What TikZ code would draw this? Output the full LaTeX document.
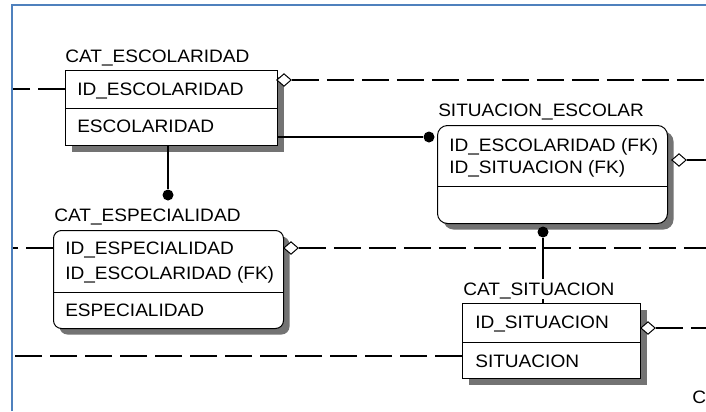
\documentclass[tikz,border=0pt]{standalone}
\usepackage{fontspec}
\setmainfont{Liberation Sans}[FakeStretch=1.06]
\usetikzlibrary{shapes.geometric,shadows}
\definecolor{framecol}{RGB}{79,129,189}
\newcommand\erfont{\fontsize{13.5pt}{16pt}\selectfont}
\begin{document}
\begin{tikzpicture}[x=0.75pt,y=-0.75pt,
  ent/.style={draw=black,fill=white,line width=0.75pt,inner sep=0pt,anchor=north west,
     general shadow={fill=black!55,shadow xshift=4.5pt,shadow yshift=-4.5pt}},
  lbl/.style={anchor=west,inner sep=0pt,text height=9.6pt,text depth=0pt,font=\erfont},
  rel/.style={line width=0.8pt},
  dsh/.style={line width=0.8pt,dash pattern=on 20.25pt off 6pt},
  dot/.style={circle,fill=black,inner sep=0pt,minimum size=8.25pt},
  dia/.style={diamond,draw=black,fill=white,line width=0.75pt,inner sep=0pt,minimum width=11pt,minimum height=9.5pt}]
\useasboundingbox (0,0) rectangle (706,411);
\clip (0,0) rectangle (706,411);
\fill[white] (0,0) rectangle (706,411);
\draw[line width=1.5pt,framecol] (12,411) -- (12,5) -- (706,5);
\coordinate (R) at (706,0);
\coordinate (L1) at (13,89);
\coordinate (L2) at (13,248);
\coordinate (L3) at (13,356);
% entities
\node[ent,minimum width=159pt,minimum height=56.25pt] (esc) at (65,70) {};
\node[ent,rounded corners=6pt,minimum width=172.5pt,minimum height=73.5pt] (esp) at (53,230) {};
\node[ent,rounded corners=7.5pt,minimum width=172.5pt,minimum height=73.5pt] (sitesc) at (437,125) {};
\node[ent,minimum width=133.5pt,minimum height=56.25pt] (sit) at (462,303) {};
% dividers
\draw[line width=0.75pt] (65,108) -- (277,108);
\draw[line width=0.75pt] (53,292) -- (283,292);
\draw[line width=0.75pt] (437,186) -- (667,186);
\draw[line width=0.75pt] (462,342) -- (640,342);
% relationship markers
\node[dot] (d1) at (168,195) {};
\node[dot] (d2) at (429,137) {};
\node[dot] (d3) at (543,232) {};
\node[dia] (m1) at (284,80) {};
\node[dia] (m2) at (291,248) {};
\node[dia] (m3) at (679,160) {};
\node[dia] (m4) at (648,328) {};
% connectors
\draw[rel] (d1 |- esc.south) -- (d1);
\draw[rel] (esc.east |- d2) -- (d2);
\draw[rel] (d3) -- (d3 |- sit.north);
\draw[dsh] (esc.west |- L1) -- (L1);
\draw[dsh] (m1.east) -- (m1.east -| R);
\draw[dsh] (esp.west |- L2) -- (L2);
\draw[dsh] (m2.east) -- (m2.east -| R);
\draw[rel] (m3.east) -- (m3.east -| R);
\draw[dsh] (m4.east) -- (m4.east -| R);
\draw[dsh] (sit.west |- L3) -- (L3);
% texts
\node[lbl] (t1) at (65,56) {CAT\_ESCOLARIDAD};
\node[lbl] (t1a) at (77,89) {ID\_ESCOLARIDAD};
\node[lbl] (t1b) at (77,126) {ESCOLARIDAD};
\node[lbl] (t2) at (54,215) {CAT\_ESPECIALIDAD};
\node[lbl] (t2a) at (65,248) {ID\_ESPECIALIDAD};
\node[lbl] (t2b) at (65,273) {ID\_ESCOLARIDAD (FK)};
\node[lbl] (t2c) at (65,310) {ESPECIALIDAD};
\node[lbl] (t3) at (438,110) {SITUACION\_ESCOLAR};
\node[lbl] (t3a) at (449,145) {ID\_ESCOLARIDAD (FK)};
\node[lbl] (t3b) at (449,167) {ID\_SITUACION (FK)};
\node[lbl,fill=white,inner ysep=3pt] (t4) at (463,289) {CAT\_SITUACION};
\node[lbl] (t4a) at (475,322) {ID\_SITUACION};
\node[lbl] (t4b) at (475,361) {SITUACION};
\node[lbl] (t5) at (692,397) {CA};
\end{tikzpicture}
\end{document}
